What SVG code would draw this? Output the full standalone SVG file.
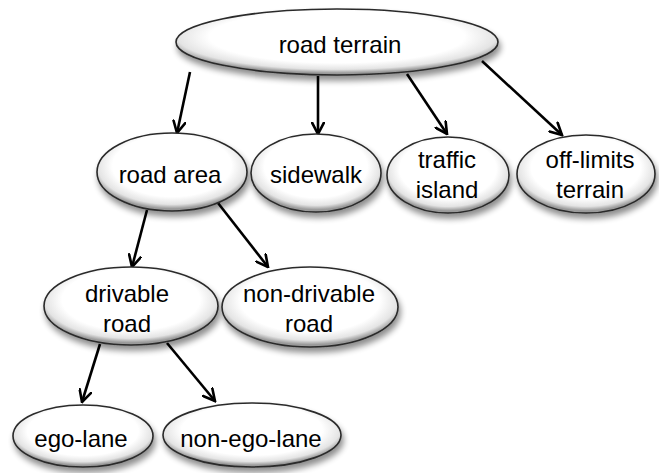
<svg xmlns="http://www.w3.org/2000/svg" width="659" height="473" viewBox="0 0 659 473">
  <defs>
    <radialGradient id="shade" cx="50%" cy="42%" r="55%">
      <stop offset="0" stop-color="#ffffff"/>
      <stop offset="0.72" stop-color="#ffffff"/>
      <stop offset="0.9" stop-color="#e4e4e4"/>
      <stop offset="1" stop-color="#9a9a9a"/>
    </radialGradient>
    <filter id="shadow" x="-20%" y="-30%" width="140%" height="170%">
      <feGaussianBlur in="SourceAlpha" stdDeviation="3"/>
      <feOffset dx="2" dy="5" result="b"/>
      <feComponentTransfer><feFuncA type="linear" slope="0.45"/></feComponentTransfer>
      <feMerge><feMergeNode/><feMergeNode in="SourceGraphic"/></feMerge>
    </filter>
    <marker id="arr" viewBox="0 0 14 14" refX="12.5" refY="7" markerWidth="14" markerHeight="14" orient="auto" markerUnits="userSpaceOnUse">
      <path d="M1,1 L12.5,7 L1,13" fill="none" stroke="#000" stroke-width="2.6" stroke-linecap="round" stroke-linejoin="miter"/>
    </marker>
  </defs>
  <style>
    .node ellipse { fill: url(#shade); stroke: #2a2a2a; stroke-width: 1.6; filter: url(#shadow); }
    .node text { font-family: "Liberation Sans", Arial, sans-serif; font-size: 24px; fill: #000; text-anchor: middle; }
    .edge { stroke: #000; stroke-width: 2.6; fill: none; marker-end: url(#arr); }
  </style>

  <g id="connectors">
    <line class="edge" x1="190" y1="72" x2="177" y2="133"/>
    <line class="edge" x1="318" y1="76" x2="318" y2="134"/>
    <line class="edge" x1="407" y1="74" x2="447" y2="134"/>
    <line class="edge" x1="482" y1="61" x2="562" y2="135"/>
    <line class="edge" x1="147" y1="210" x2="132" y2="267"/>
    <line class="edge" x1="218" y1="203" x2="268" y2="267"/>
    <line class="edge" x1="100" y1="344" x2="82" y2="402"/>
    <line class="edge" x1="167" y1="343" x2="215" y2="401"/>
  </g>

  <g id="road-terrain" class="node">
    <ellipse cx="337" cy="42" rx="161" ry="33"/>
    <text x="340" y="53">road terrain</text>
  </g>
  <g id="road-area" class="node">
    <ellipse cx="172" cy="172" rx="75" ry="39"/>
    <text x="170" y="183">road area</text>
  </g>
  <g id="sidewalk" class="node">
    <ellipse cx="316" cy="173" rx="65" ry="39"/>
    <text x="316" y="183">sidewalk</text>
  </g>
  <g id="traffic-island" class="node">
    <ellipse cx="448" cy="175" rx="61" ry="38"/>
    <text x="447" y="168">traffic</text>
    <text x="447" y="198">island</text>
  </g>
  <g id="off-limits-terrain" class="node">
    <ellipse cx="586" cy="174" rx="69" ry="39"/>
    <text x="590" y="168">off-limits</text>
    <text x="590" y="198">terrain</text>
  </g>
  <g id="drivable-road" class="node">
    <ellipse cx="131" cy="306" rx="87" ry="39"/>
    <text x="127" y="302">drivable</text>
    <text x="127" y="332">road</text>
  </g>
  <g id="non-drivable-road" class="node">
    <ellipse cx="310" cy="307" rx="88" ry="40"/>
    <text x="309" y="302">non-drivable</text>
    <text x="309" y="332">road</text>
  </g>
  <g id="ego-lane" class="node">
    <ellipse cx="83" cy="436" rx="70" ry="31"/>
    <text x="81" y="447">ego-lane</text>
  </g>
  <g id="non-ego-lane" class="node">
    <ellipse cx="252" cy="435" rx="89" ry="32"/>
    <text x="251" y="447">non-ego-lane</text>
  </g>
</svg>
